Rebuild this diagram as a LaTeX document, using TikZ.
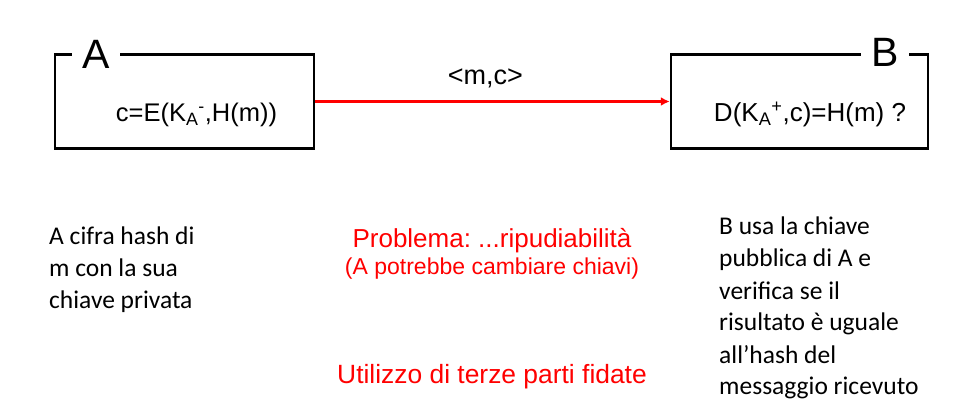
\documentclass[tikz,border=0pt]{standalone}
\usepackage{fontspec}
\setmainfont{Liberation Sans}
\newfontfamily\calibri{Carlito}
\frenchspacing
\usetikzlibrary{shapes, arrows.meta, positioning}

\begin{document}
\begin{tikzpicture}[x=1pt,y=-1pt,
	party/.style={draw, line width=2.5pt, minimum height=94pt, inner sep=0pt},
	tag/.style={fill=white, inner xsep=10.5pt, inner ysep=0pt, anchor=base, font=\fontsize{41}{41}\selectfont},
	formula/.style={anchor=base, inner sep=0pt, font=\fontsize{25.5}{25.5}\selectfont},
	note/.style={align=left, anchor=base west, inner sep=0pt, font=\calibri\fontsize{25.5}{32}\selectfont},
	warn/.style={text=red, anchor=base, inner sep=0pt}]
		\useasboundingbox (0,0) rectangle (977,419);
		% the two parties
		\node[party, minimum width=259pt] (boxA) at (184.5,101.5) {};
		\node[party, minimum width=257pt] (boxB) at (799.5,101.5) {};
		\node[tag] (tagA) at (96,69) {A};
		\node[tag] (tagB) at (885,67) {B};
		\node[formula] (sign) at (196.5,122) {c=E(K\textsubscript{A}\textsuperscript{-},H(m))};
		\node[formula, font=\fontsize{26}{26}\selectfont] (check) at (810,122) {D(K\textsubscript{A}\textsuperscript{+},c)=H(m) ?};
		% message
		\draw [red, line width=2.5pt, -{Latex[length=9pt,width=9pt]}] (boxA.east) -- (boxB.west)
		node[pos=0.48, above=9pt, text=black, font=\fontsize{27}{27}\selectfont] (msg) {<m,c>};
		% notes
		\node[note] (noteA) at (49,309) {A cifra hash di\\m con la sua\\chiave privata};
		\node[note] (noteB) at (719,395) {B usa la chiave\\pubblica di A e\\verifica se il\\risultato è uguale\\all’hash del\\messaggio ricevuto};
		\node[warn, font=\fontsize{26}{26}\selectfont] (problem) at (492,248) {Problema: ...ripudiabilità};
		\node[warn, font=\fontsize{23}{23}\selectfont] (why) at (492,275) {(A potrebbe cambiare chiavi)};
		\node[warn, font=\fontsize{26.4}{26.4}\selectfont] (fix) at (492,384) {Utilizzo di terze parti fidate};
	\end{tikzpicture}
\end{document}
